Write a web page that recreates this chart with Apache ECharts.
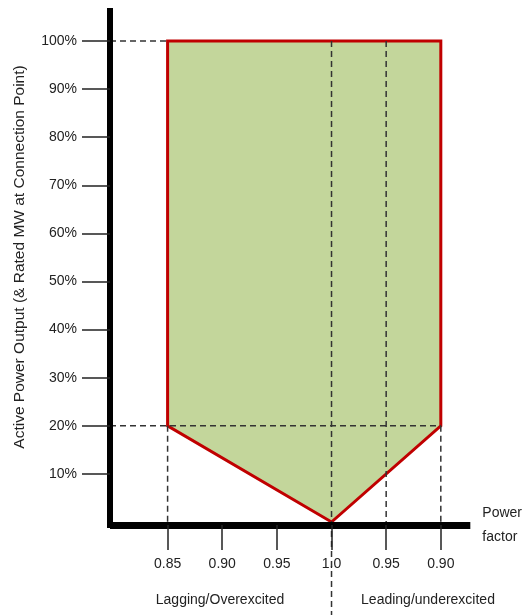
<!DOCTYPE html>
<html>
<head>
<meta charset="utf-8">
<script src="https://cdn.jsdelivr.net/npm/echarts@6/dist/echarts.min.js"></script>
<style>html,body{margin:0;padding:0;background:#fff;}#c{width:525px;height:615px;}</style>
</head>
<body>
<div id="c"></div>
<script>
// Power factor ticks, placed by signed (1 - pf): negative = lagging, positive = leading
const pfTickPos = [-0.15, -0.10, -0.05, 0, 0.05, 0.10];
const pfTickLabels = ['0.85', '0.90', '0.95', '1.0', '0.95', '0.90'];
// Active power ticks (%)
const yTickValues = [10, 20, 30, 40, 50, 60, 70, 80, 90, 100];
// Capability zone vertices
const zoneX = [-0.15, 0.10, 0.10, 0, -0.15];
const zoneY = [100, 100, 20, 0, 20];
// Dashed guide lines [x1, y1, x2, y2]
const X_MIN = -0.2027, X_MAX = 0.127, Y_MIN = -0.62, Y_MAX = 106.24, Y_PAGE_BOTTOM = -19.6;
const guideLines = [
  [X_MIN, 100, -0.15, 100],
  [X_MIN, 20, 0.10, 20],
  [-0.15, 20, -0.15, 0],
  [0, 100, 0, Y_PAGE_BOTTOM],
  [0.05, 100, 0.05, 0],
  [0.10, 20, 0.10, 0]
];

const FONT = 'Liberation Sans, Arial, sans-serif';
const TXT = '#222';

const chart = echarts.init(document.getElementById('c'), null, {renderer: 'canvas'});

const zoneData = zoneX.map((x, i) => [x, zoneY[i]]);

const series = [{
  type: 'custom',
  z: 1,
  data: zoneData,
  renderItem: function (params, api) {
    if (params.dataIndex !== 0) return null;
    const pts = zoneData.map(d => api.coord(d));
    return {
      type: 'polygon',
      shape: {points: pts},
      style: {fill: '#c3d69b', stroke: '#c00000', lineWidth: 3, lineJoin: 'miter'}
    };
  },
  silent: true
}];

guideLines.forEach(g => {
  series.push({
    type: 'line',
    z: 3,
    clip: false,
    symbol: 'none',
    silent: true,
    data: [[g[0], g[1]], [g[2], g[3]]],
    lineStyle: {color: '#333', width: 1.5, type: [6, 4]}
  });
});

chart.setOption({
  animation: false,
  grid: {left: 110, right: 52.3, top: 11, bottom: 90, containLabel: false},
  xAxis: {
    type: 'value',
    min: X_MIN,
    max: X_MAX,
    z: 5,
    splitLine: {show: false},
    axisLine: {onZero: false, lineStyle: {color: '#000', width: 7, cap: 'butt'}},
    axisTick: {show: true, customValues: pfTickPos, length: 25, lineStyle: {color: '#222', width: 1.5}},
    axisLabel: {
      customValues: pfTickPos,
      margin: 32,
      color: TXT,
      fontFamily: FONT,
      fontSize: 14,
      formatter: function (v) {
        const i = pfTickPos.findIndex(p => Math.abs(p - v) < 1e-9);
        return i >= 0 ? pfTickLabels[i] : '';
      }
    },
    name: 'Power\nfactor',
    nameLocation: 'end',
    nameGap: 12,
    nameTextStyle: {color: TXT, fontFamily: FONT, fontSize: 14, lineHeight: 24, align: 'left', verticalAlign: 'middle'}
  },
  yAxis: {
    type: 'value',
    min: Y_MIN,
    max: Y_MAX,
    z: 5,
    splitLine: {show: false},
    axisLine: {onZero: false, lineStyle: {color: '#000', width: 6, cap: 'square'}},
    axisTick: {show: true, customValues: yTickValues, length: 28, lineStyle: {color: '#222', width: 1.5}},
    axisLabel: {
      customValues: yTickValues,
      margin: 33,
      color: TXT,
      fontFamily: FONT,
      fontSize: 14,
      formatter: v => v + '%'
    }
  },
  graphic: [
    {type: 'text', x: 20, y: 257, rotation: Math.PI / 2,
     style: {text: 'Active Power Output (& Rated MW at Connection Point)', fill: TXT, font: '15.5px ' + FONT, align: 'center', verticalAlign: 'middle'}},
    {type: 'text', x: 255, y: 178,
     style: {text: 'Zone for\nMW-MVar\ncapability', fill: TXT, font: '14px ' + FONT, lineHeight: 21, align: 'center', verticalAlign: 'middle'}},
    {type: 'text', x: 220, y: 600,
     style: {text: 'Lagging/Overexcited', fill: TXT, font: '14px ' + FONT, align: 'center', verticalAlign: 'middle'}},
    {type: 'text', x: 428, y: 600,
     style: {text: 'Leading/underexcited', fill: TXT, font: '14px ' + FONT, align: 'center', verticalAlign: 'middle'}}
  ],
  series: series
});
</script>
</body>
</html>
